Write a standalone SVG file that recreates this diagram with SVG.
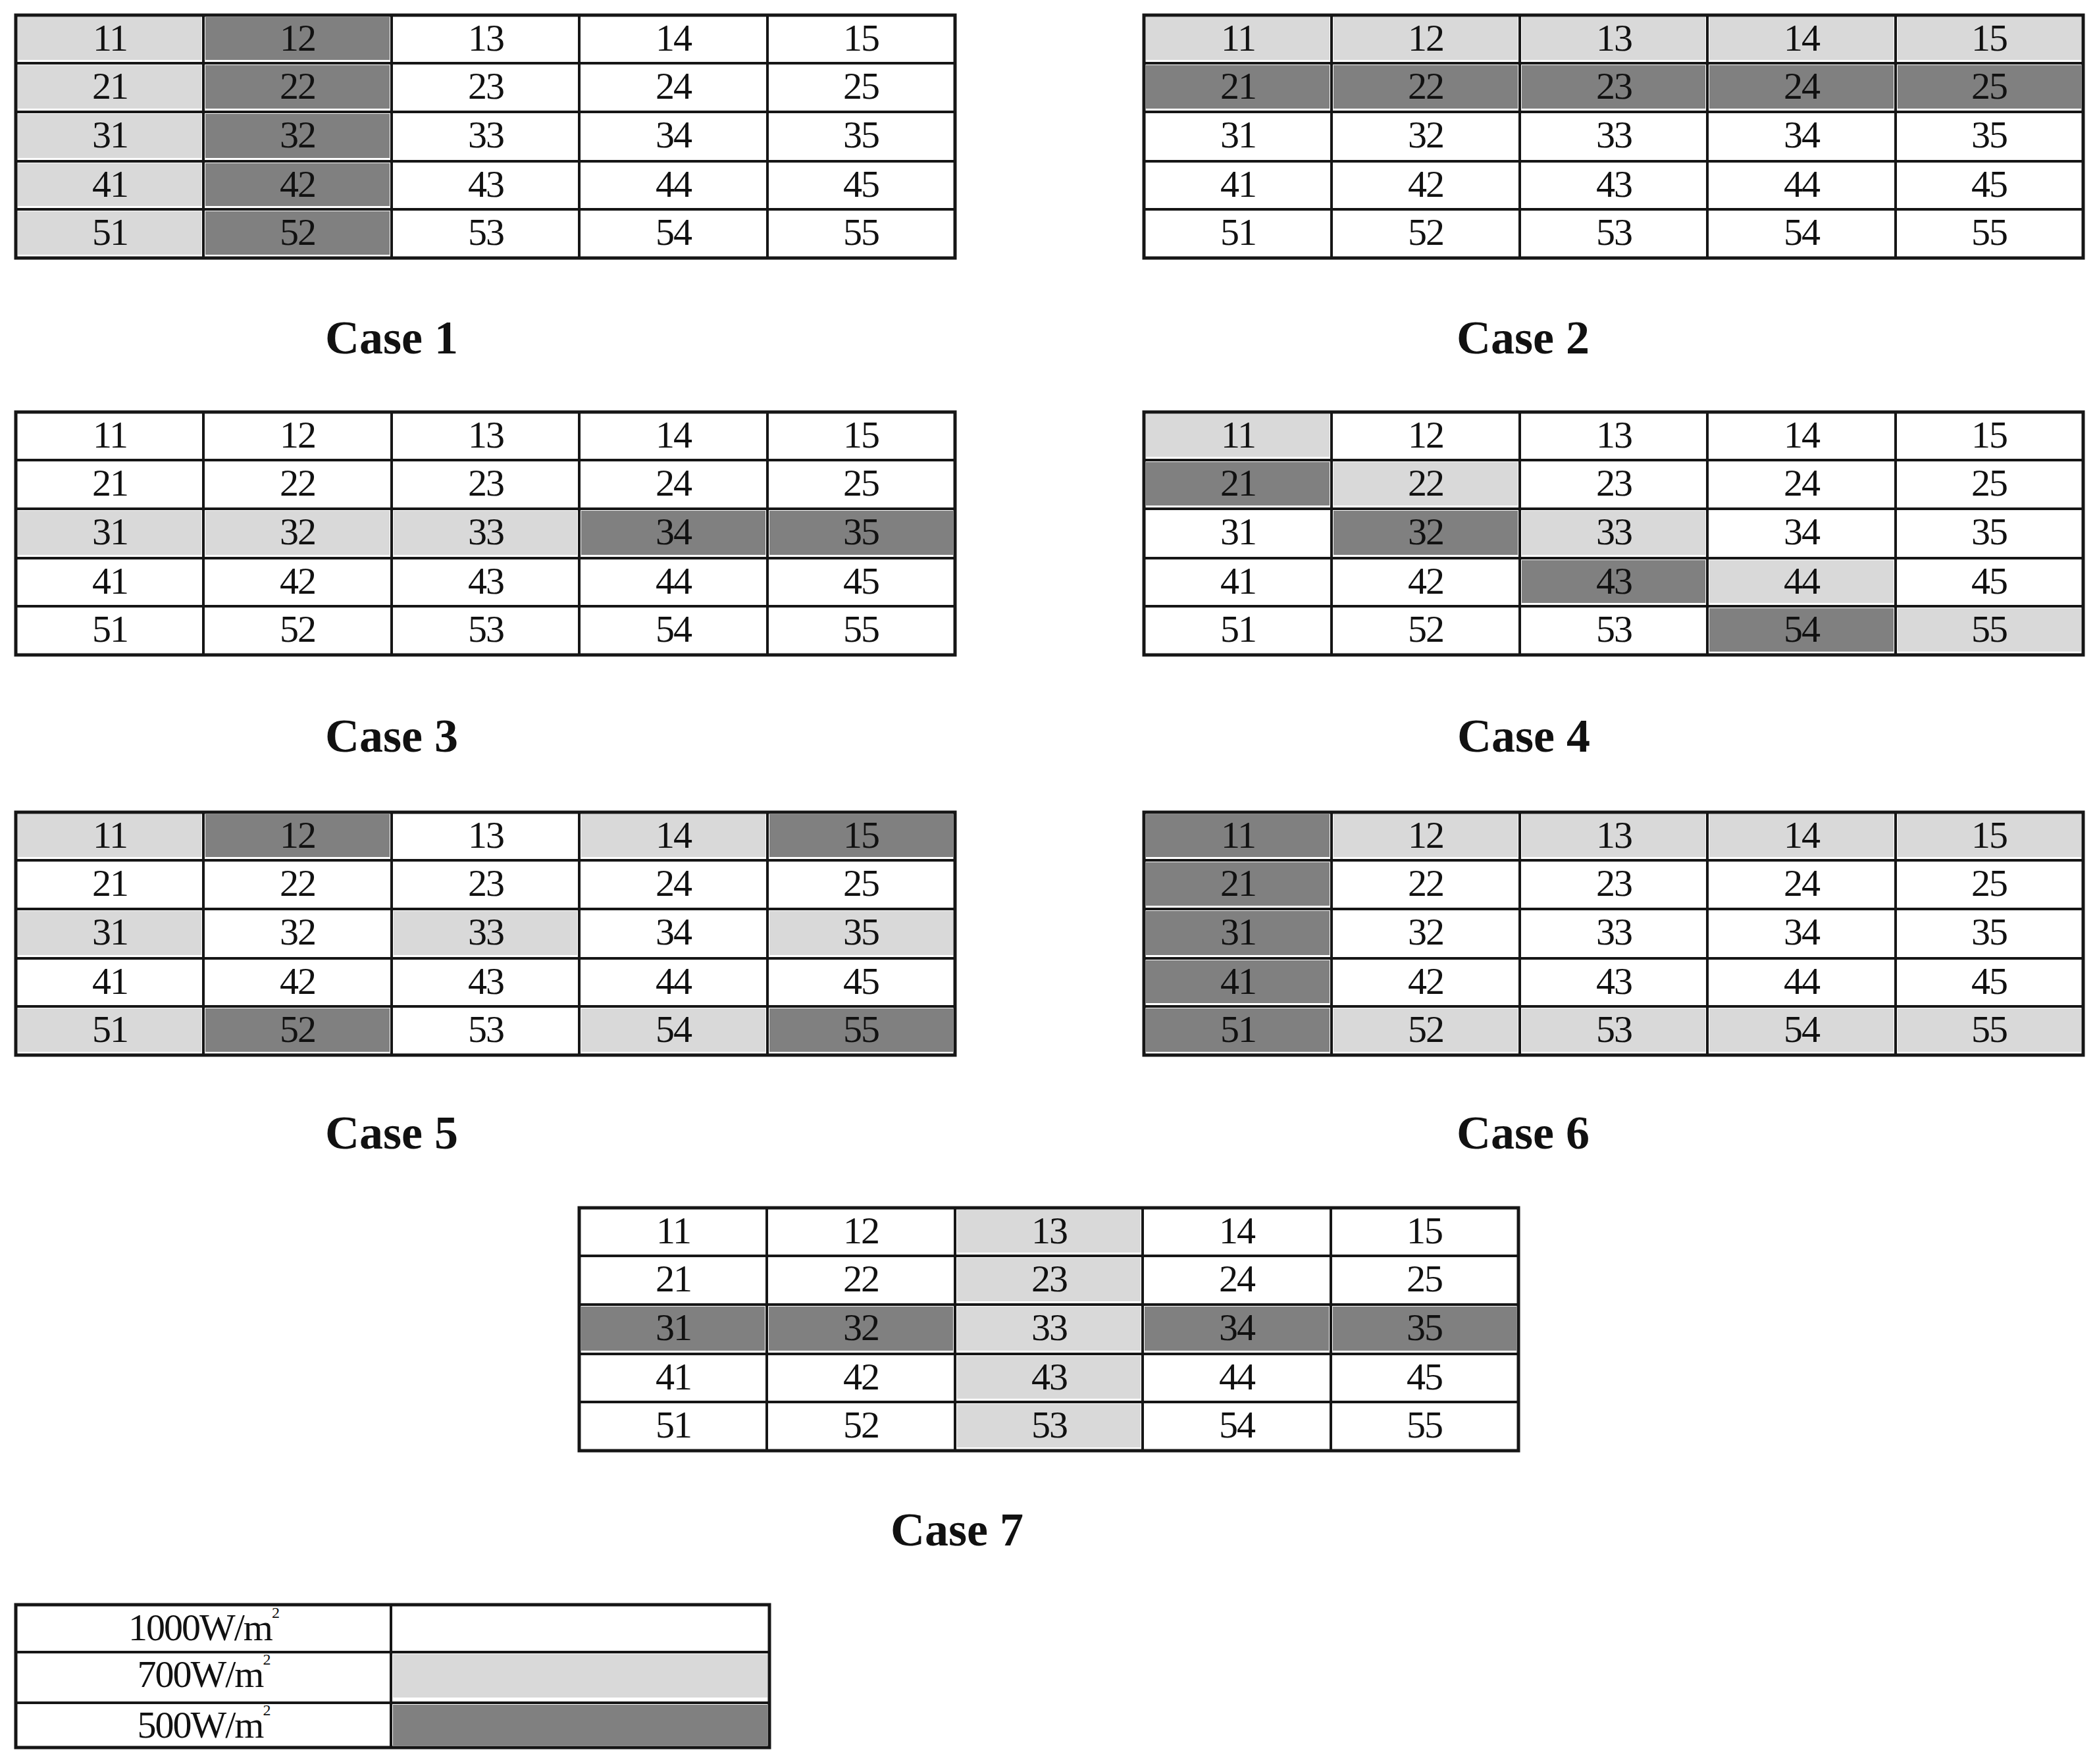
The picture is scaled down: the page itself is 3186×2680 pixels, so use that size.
<svg xmlns="http://www.w3.org/2000/svg" xmlns:xlink="http://www.w3.org/1999/xlink" width="3186" height="2680" viewBox="0 0 3186 2680">
<style>
.n{font-family:"Liberation Serif","Times New Roman",serif;font-size:58px;letter-spacing:-2px;fill:#111;text-anchor:middle}
.lab{font-family:"Liberation Serif","Times New Roman",serif;font-size:72px;font-weight:bold;fill:#111;text-anchor:middle}
.L{fill:#d9d9d9}
.D{fill:#808080}
.gl{fill:none;stroke:#161616;stroke-width:4}
.gb{fill:none;stroke:#161616;stroke-width:5}
</style>
<defs>
<g id="grid">
<path class="gl" d="M285 0V369M571 0V369M856 0V369M1142 0V369M0 73H1427M0 147H1427M0 222H1427M0 295H1427"/>
<rect class="gb" x="0" y="0" width="1427" height="369"/>
</g>
<g id="nums">
<text class="n" y="54"><tspan x="143">11</tspan><tspan x="428">12</tspan><tspan x="714">13</tspan><tspan x="999">14</tspan><tspan x="1284">15</tspan></text>
<text class="n" y="127"><tspan x="143">21</tspan><tspan x="428">22</tspan><tspan x="714">23</tspan><tspan x="999">24</tspan><tspan x="1284">25</tspan></text>
<text class="n" y="201"><tspan x="143">31</tspan><tspan x="428">32</tspan><tspan x="714">33</tspan><tspan x="999">34</tspan><tspan x="1284">35</tspan></text>
<text class="n" y="276"><tspan x="143">41</tspan><tspan x="428">42</tspan><tspan x="714">43</tspan><tspan x="999">44</tspan><tspan x="1284">45</tspan></text>
<text class="n" y="349"><tspan x="143">51</tspan><tspan x="428">52</tspan><tspan x="714">53</tspan><tspan x="999">54</tspan><tspan x="1284">55</tspan></text>
</g>
</defs>
<rect width="3186" height="2680" fill="#fff"/>

<g id="case1" transform="translate(24,23)">
<rect class="L" x="3" y="3" width="279" height="65"/><rect class="L" x="3" y="76" width="279" height="66"/><rect class="L" x="3" y="150" width="279" height="67"/><rect class="L" x="3" y="225" width="279" height="65"/><rect class="L" x="3" y="298" width="279" height="66"/>
<rect class="D" x="288" y="3" width="280" height="65"/><rect class="D" x="288" y="76" width="280" height="66"/><rect class="D" x="288" y="150" width="280" height="67"/><rect class="D" x="288" y="225" width="280" height="65"/><rect class="D" x="288" y="298" width="280" height="66"/>
<use xlink:href="#grid"/><use xlink:href="#nums"/>
</g>
<text id="label1" class="lab" x="595" y="537">Case 1</text>

<g id="case2" transform="translate(1738,23)">
<rect class="L" x="3" y="3" width="279" height="65"/><rect class="L" x="288" y="3" width="280" height="65"/><rect class="L" x="574" y="3" width="279" height="65"/><rect class="L" x="859" y="3" width="280" height="65"/><rect class="L" x="1145" y="3" width="279" height="65"/>
<rect class="D" x="3" y="76" width="279" height="66"/><rect class="D" x="288" y="76" width="280" height="66"/><rect class="D" x="574" y="76" width="279" height="66"/><rect class="D" x="859" y="76" width="280" height="66"/><rect class="D" x="1145" y="76" width="279" height="66"/>
<use xlink:href="#grid"/><use xlink:href="#nums"/>
</g>
<text id="label2" class="lab" x="2314" y="537">Case 2</text>

<g id="case3" transform="translate(24,626)">
<rect class="L" x="3" y="150" width="279" height="67"/><rect class="L" x="288" y="150" width="280" height="67"/><rect class="L" x="574" y="150" width="279" height="67"/>
<rect class="D" x="859" y="150" width="280" height="67"/><rect class="D" x="1145" y="150" width="279" height="67"/>
<use xlink:href="#grid"/><use xlink:href="#nums"/>
</g>
<text id="label3" class="lab" x="595" y="1142">Case 3</text>

<g id="case4" transform="translate(1738,626)">
<rect class="L" x="3" y="3" width="279" height="65"/>
<rect class="D" x="3" y="76" width="279" height="66"/><rect class="L" x="288" y="76" width="280" height="66"/>
<rect class="D" x="288" y="150" width="280" height="67"/><rect class="L" x="574" y="150" width="279" height="67"/>
<rect class="D" x="574" y="225" width="279" height="65"/><rect class="L" x="859" y="225" width="280" height="65"/>
<rect class="D" x="859" y="298" width="280" height="66"/><rect class="L" x="1145" y="298" width="279" height="66"/>
<use xlink:href="#grid"/><use xlink:href="#nums"/>
</g>
<text id="label4" class="lab" x="2315" y="1142">Case 4</text>

<g id="case5" transform="translate(24,1234)">
<rect class="L" x="3" y="3" width="279" height="65"/><rect class="D" x="288" y="3" width="280" height="65"/><rect class="L" x="859" y="3" width="280" height="65"/><rect class="D" x="1145" y="3" width="279" height="65"/>
<rect class="L" x="3" y="150" width="279" height="67"/><rect class="L" x="574" y="150" width="279" height="67"/><rect class="L" x="1145" y="150" width="279" height="67"/>
<rect class="L" x="3" y="298" width="279" height="66"/><rect class="D" x="288" y="298" width="280" height="66"/><rect class="L" x="859" y="298" width="280" height="66"/><rect class="D" x="1145" y="298" width="279" height="66"/>
<use xlink:href="#grid"/><use xlink:href="#nums"/>
</g>
<text id="label5" class="lab" x="595" y="1745">Case 5</text>

<g id="case6" transform="translate(1738,1234)">
<rect class="D" x="3" y="3" width="279" height="65"/><rect class="D" x="3" y="76" width="279" height="66"/><rect class="D" x="3" y="150" width="279" height="67"/><rect class="D" x="3" y="225" width="279" height="65"/><rect class="D" x="3" y="298" width="279" height="66"/>
<rect class="L" x="288" y="3" width="280" height="65"/><rect class="L" x="574" y="3" width="279" height="65"/><rect class="L" x="859" y="3" width="280" height="65"/><rect class="L" x="1145" y="3" width="279" height="65"/>
<rect class="L" x="288" y="298" width="280" height="66"/><rect class="L" x="574" y="298" width="279" height="66"/><rect class="L" x="859" y="298" width="280" height="66"/><rect class="L" x="1145" y="298" width="279" height="66"/>
<use xlink:href="#grid"/><use xlink:href="#nums"/>
</g>
<text id="label6" class="lab" x="2314" y="1745">Case 6</text>

<g id="case7" transform="translate(880,1835)">
<rect class="L" x="574" y="3" width="279" height="65"/><rect class="L" x="574" y="76" width="279" height="66"/><rect class="L" x="574" y="150" width="279" height="67"/><rect class="L" x="574" y="225" width="279" height="65"/><rect class="L" x="574" y="298" width="279" height="66"/>
<rect class="D" x="3" y="150" width="279" height="67"/><rect class="D" x="288" y="150" width="280" height="67"/><rect class="D" x="859" y="150" width="280" height="67"/><rect class="D" x="1145" y="150" width="279" height="67"/>
<use xlink:href="#grid"/><use xlink:href="#nums"/>
</g>
<text id="label7" class="lab" x="1454" y="2348">Case 7</text>

<g id="legend">
<rect class="L" x="597" y="2513" width="569" height="66"/>
<rect class="D" x="597" y="2590" width="569" height="62"/>
<path class="gl" d="M594 2438V2655M24 2510H1169M24 2587H1169"/>
<rect class="gb" x="24" y="2438" width="1145" height="217"/>
<text class="n" x="309" y="2492">1000W/m<tspan dy="-34" font-size="24">2</tspan></text>
<text class="n" x="309" y="2563">700W/m<tspan dy="-34" font-size="24">2</tspan></text>
<text class="n" x="309" y="2640">500W/m<tspan dy="-34" font-size="24">2</tspan></text>
</g>
</svg>
